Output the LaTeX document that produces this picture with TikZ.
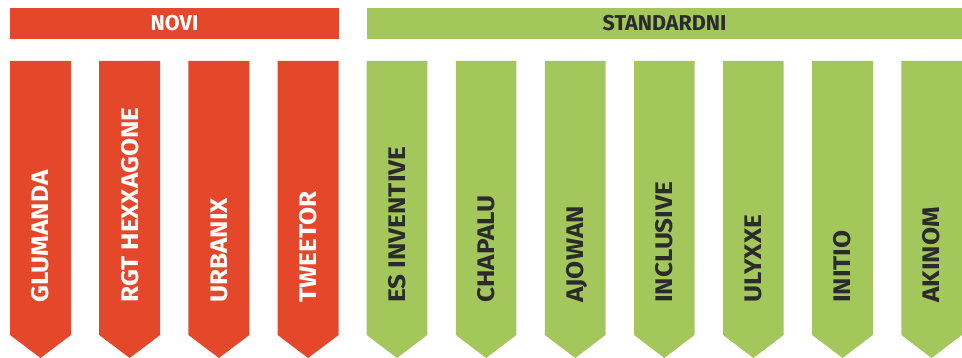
\documentclass[tikz,border=0pt]{standalone}
\usepackage{fontspec}
\setmainfont{Fira Sans}
\newfontfamily\tagfont[FakeStretch=1.09]{Fira Sans}
\definecolor{novired}{HTML}{E5472B}
\definecolor{stdgreen}{HTML}{A3C75A}
\definecolor{stdtext}{HTML}{2B2B2B}
\tikzset{
  band/.style={inner sep=0pt,minimum height=31pt,font=\fontsize{21.5}{21.5}\selectfont\bfseries},
  tag/.style={rotate=90,anchor=base west,inner sep=0pt,font=\tagfont\fontsize{24}{24}\selectfont\bfseries}
}
\begin{document}
\begin{tikzpicture}[x=1pt,y=-1pt]
\useasboundingbox (0,0) rectangle (962,358);
% header bars
\fill[novired] (10,8) rectangle (339,39);
\node[band,text=white] (novi) at (174.5,23.5) {NOVI};
\fill[stdgreen] (367,8) rectangle (962,39);
\node[band,text=stdtext] (standardni) at (664.5,23.5) {STANDARDNI};
% red flags
\foreach \name [count=\i] in {GLUMANDA,RGT HEXXAGONE,URBANIX,TWEETOR} {
  \pgfmathsetmacro\cx{40.5+89.2*(\i-1)}
  \fill[novired] (\cx-30.5,61) -- (\cx+30.5,61) -- (\cx+30.5,335) -- (\cx,358) -- (\cx-30.5,335) -- cycle;
  \node[tag,text=white] (n\i) at (\cx+8.3,303) {\name};
}
% green flags
\foreach \name [count=\i] in {ES INVENTIVE,CHAPALU,AJOWAN,INCLUSIVE,ULYXXE,INITIO,AKINOM} {
  \pgfmathsetmacro\cx{397+89.1*(\i-1)}
  \fill[stdgreen] (\cx-30.3,61) -- (\cx+30.3,61) -- (\cx+30.3,335) -- (\cx,358) -- (\cx-30.3,335) -- cycle;
  \node[tag,text=stdtext] (s\i) at (\cx+8.3,303) {\name};
}
\end{tikzpicture}
\end{document}
